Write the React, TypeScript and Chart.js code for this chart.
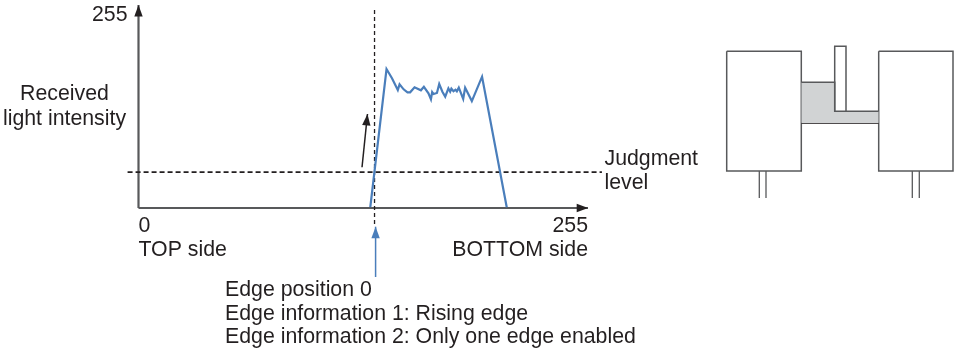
import React, { useEffect, useRef } from "react";
import { Chart, registerables } from "chart.js";

Chart.register(...registerables);

// Received light profile (position 0-255, intensity 0-255)
const profilePosition = [131.5, 140.7, 143.8, 147.1, 148.1, 150.4, 152.6, 154.1, 156.6, 160.2, 161.9, 164.5, 165.9, 166.6, 167.4, 169.3, 170.6, 172.4, 174, 175.8, 176.8, 177.5, 178.7, 179.8, 180.6, 181.7, 184.2, 185.3, 189.1, 194.9, 208.9];
const profileIntensity = [1, 183.6, 171.4, 155.9, 163.4, 156.8, 152.9, 152.9, 159.5, 155.5, 160.2, 151.6, 143.6, 153.2, 150.6, 152, 163.8, 153.6, 147.1, 158.1, 153.6, 157.6, 154.2, 156.3, 154.2, 159, 144, 159, 141.3, 173.5, 1];

const judgmentLine = [{ x: -6.2, y: 47.5 }, { x: 262.9, y: 47.5 }];
const edgeLine = [{ x: 133.9, y: 261.6 }, { x: 133.9, y: -21.1 }];
const yAxisArrow = [{ x: 0, y: 0 }, { x: 0, y: 268.2 }];
const xAxisArrow = [{ x: 0, y: 0 }, { x: 255, y: 0 }];
const riseArrow = [{ x: 126.8, y: 53.8 }, { x: 129.9, y: 124.2 }];
const edgePointer = [{ x: 134.5, y: -91.2 }, { x: 134.5, y: -24.7 }];

const xTicks = [0, 255];
const xTickLabels = [["0", "TOP side"], ["255", "BOTTOM side"]];
const yTicks = [0, 255];
const yTickLabels = ["", "255"];

const sideLabels = ["Received", "light intensity"];
const judgmentLabels = ["Judgment", "level"];
const edgeLabels = ["Edge position 0", "Edge information 1: Rising edge", "Edge information 2: Only one edge enabled"];

// Sensor schematic
const leftBox = [[26.7, 21.3], [101.3, 21.3], [101.3, 141], [26.7, 141], [26.7, 21.3]];
const rightBox = [[178.7, 21.3], [253, 21.3], [253, 141], [178.7, 141], [178.7, 21.3]];
const leftStemA = [[59.3, 141], [59.3, 168]];
const leftStemB = [[66, 141], [66, 168]];
const rightStemA = [[212.3, 141], [212.3, 168]];
const rightStemB = [[219.3, 141], [219.3, 168]];
const beamTop = [[101.3, 52.3], [134.7, 52.3], [134.7, 81.3], [178.7, 81.3]];
const beamBottom = [[101.3, 93.3], [178.7, 93.3]];
const tab = [[134.7, 81.3], [134.7, 16.3], [146, 16.3], [146, 81.3]];

const INK = "#231f20";
const AXIS = "#58595b";
const BLUE = "#4a7ebb";
const FONT = "'Liberation Sans', Arial, sans-serif";
const FONT_SIZE = 21.3;

const arrowHeads = {
  id: "arrowHeads",
  afterDatasetsDraw(chart: any) {
    const { ctx } = chart;
    chart.data.datasets.forEach((ds: any, i: number) => {
      if (!ds.arrowHead) return;
      const pts = chart.getDatasetMeta(i).data;
      const a = pts[pts.length - 2];
      const b = pts[pts.length - 1];
      const ang = Math.atan2(b.y - a.y, b.x - a.x);
      ctx.save();
      ctx.translate(b.x, b.y);
      ctx.rotate(ang);
      ctx.beginPath();
      ctx.moveTo(0, 0);
      ctx.lineTo(-11.5, -4.2);
      ctx.lineTo(-11.5, 4.2);
      ctx.closePath();
      ctx.fillStyle = ds.arrowHead;
      ctx.fill();
      ctx.restore();
    });
  },
};

const freeText = {
  id: "freeText",
  afterDraw(chart: any) {
    const { ctx } = chart;
    ctx.save();
    ctx.fillStyle = INK;
    ctx.font = `${FONT_SIZE}px ${FONT}`;
    ctx.textBaseline = "alphabetic";
    ctx.textAlign = "center";
    sideLabels.forEach((t, i) => ctx.fillText(t, 64.5, 100 + i * 24.5));
    ctx.textAlign = "left";
    judgmentLabels.forEach((t, i) => ctx.fillText(t, 604.5, 165 + i * 24));
    edgeLabels.forEach((t, i) => ctx.fillText(t, 225, 296 + i * 23.5));
    ctx.restore();
  },
};

const line = (data: any[], color: string, width: number, extra: any = {}) => ({
  data,
  borderColor: color,
  borderWidth: width,
  pointRadius: 0,
  showLine: true,
  fill: false,
  tension: 0,
  clip: false as any,
  ...extra,
});

const toPts = (rows: number[][]) => rows.map(([x, y]) => ({ x, y }));

export default function App() {
  const mainRef = useRef<HTMLCanvasElement>(null);
  const sketchRef = useRef<HTMLCanvasElement>(null);

  useEffect(() => {
    const main = new Chart(mainRef.current!, {
      type: "scatter",
      data: {
        datasets: [
          line(profilePosition.map((x, i) => ({ x, y: profileIntensity[i] })), BLUE, 2.2),
          line(edgeLine, INK, 1.3, { borderDash: [4, 3] }),
          line(judgmentLine, INK, 1.8, { borderDash: [5, 3] }),
          line(yAxisArrow, AXIS, 2.2, { arrowHead: INK }),
          line(xAxisArrow, AXIS, 2.2),
          line([{ x: 255, y: 0 }, { x: 255.1, y: 0 }], AXIS, 0, { arrowHead: INK }),
          line(riseArrow, INK, 1.5, { arrowHead: INK }),
          line(edgePointer, BLUE, 1.5, { arrowHead: BLUE }),
        ] as any,
      },
      plugins: [arrowHeads, freeText],
      options: {
        animation: false,
        responsive: false,
        events: [],
        layout: { padding: { top: 15, right: 112, left: 0, bottom: 0 } },
        plugins: { legend: { display: false }, tooltip: { enabled: false } },
        scales: {
          x: {
            type: "linear",
            min: 0,
            max: 255,
            grid: { display: false, drawTicks: false },
            border: { display: false },
            afterBuildTicks: (s: any) => { s.ticks = xTicks.map((value) => ({ value })); },
            afterFit: (s: any) => { s.height = 142; s.paddingLeft = 0; s.paddingRight = 0; },
            ticks: {
              autoSkip: false,
              maxRotation: 0,
              align: "inner",
              padding: 6,
              color: INK,
              font: { size: FONT_SIZE, family: FONT, lineHeight: 1.13 },
              callback: (v: any) => xTickLabels[xTicks.indexOf(v)],
            },
          },
          y: {
            type: "linear",
            min: 0,
            max: 255,
            grid: { display: false, drawTicks: false },
            border: { display: false },
            afterBuildTicks: (s: any) => { s.ticks = yTicks.map((value) => ({ value })); },
            afterFit: (s: any) => { s.width = 138.5; s.paddingTop = 0; s.paddingBottom = 0; },
            ticks: {
              autoSkip: false,
              padding: 11,
              color: INK,
              font: { size: FONT_SIZE, family: FONT },
              callback: (v: any) => yTickLabels[yTicks.indexOf(v)],
            },
          },
        },
      } as any,
    });

    const sketch = new Chart(sketchRef.current!, {
      type: "scatter",
      data: {
        datasets: [
          line(toPts(beamTop), AXIS, 1.5, { fill: { value: 93.3 }, backgroundColor: "#d1d3d4" }),
          line(toPts(beamBottom), INK, 1.5),
          line(toPts(tab), AXIS, 1.5),
          line(toPts(leftBox), AXIS, 1.5),
          line(toPts(rightBox), AXIS, 1.5),
          line(toPts(leftStemA), AXIS, 1.3),
          line(toPts(leftStemB), AXIS, 1.3),
          line(toPts(rightStemA), AXIS, 1.3),
          line(toPts(rightStemB), AXIS, 1.3),
        ] as any,
      },
      options: {
        animation: false,
        responsive: false,
        events: [],
        layout: { padding: 0 },
        plugins: { legend: { display: false }, tooltip: { enabled: false } },
        scales: {
          x: { type: "linear", display: false, min: 0, max: 255 },
          y: { type: "linear", display: false, min: 0, max: 180, reverse: true },
        },
      } as any,
    });

    return () => {
      main.destroy();
      sketch.destroy();
    };
  }, []);

  return (
    <div style={{ position: "absolute", left: 0, top: 0, width: 955, height: 350, background: "#fff", overflow: "hidden" }}>
      <canvas ref={mainRef} width={700} height={350} style={{ position: "absolute", left: 0, top: 0, display: "block" }} />
      <canvas ref={sketchRef} width={255} height={180} style={{ position: "absolute", left: 700, top: 30, display: "block" }} />
    </div>
  );
}
